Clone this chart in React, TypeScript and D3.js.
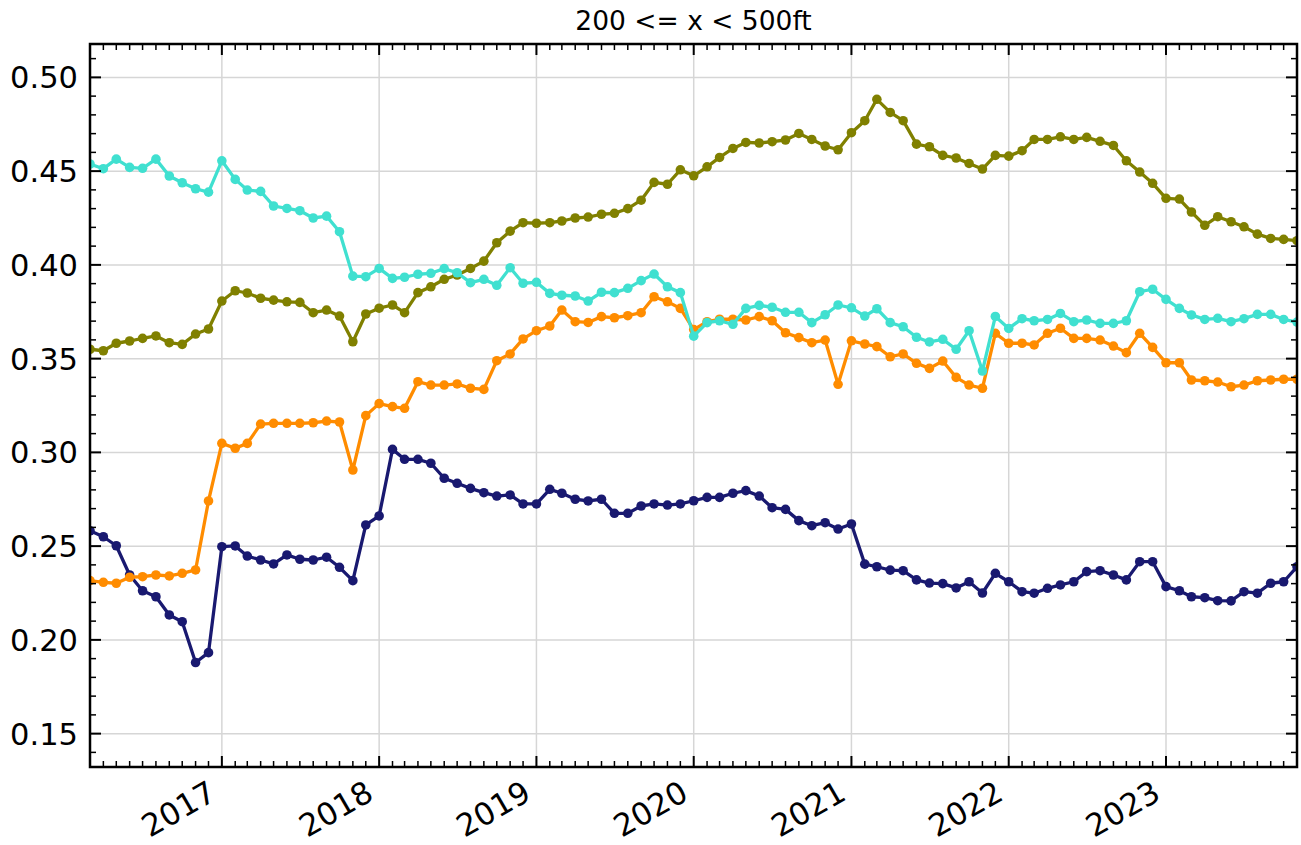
import React from 'react';
import * as d3 from 'd3';

const TITLE = '200 <= x < 500ft';
const START = new Date(2016, 2, 1);
const END = new Date(2023, 10, 1);
const months: Date[] = d3.timeMonth.range(START, d3.timeMonth.offset(END, 1));

const yearTicks = [2017, 2018, 2019, 2020, 2021, 2022, 2023];
const yTicks = [0.15, 0.2, 0.25, 0.3, 0.35, 0.4, 0.45, 0.5];
const yTickLabels = ['0.15', '0.20', '0.25', '0.30', '0.35', '0.40', '0.45', '0.50'];

const navy = [
  0.2582, 0.255, 0.2502, 0.2346, 0.2262, 0.223, 0.2133, 0.2097, 0.1879, 0.1932,
  0.2497, 0.2501, 0.2447, 0.2426, 0.2405, 0.2453, 0.243, 0.2426, 0.2441, 0.2387,
  0.2316, 0.2613, 0.2661, 0.3016, 0.2963, 0.2963, 0.2942, 0.2862, 0.2835, 0.2808,
  0.2785, 0.2767, 0.2773, 0.2725, 0.2725, 0.2803, 0.2782, 0.275, 0.2741, 0.275,
  0.2675, 0.2675, 0.2714, 0.2725, 0.2719, 0.2725, 0.2742, 0.276, 0.276, 0.2782,
  0.2796, 0.2767, 0.2705, 0.2696, 0.2636, 0.2609, 0.2625, 0.2591, 0.2618, 0.2404,
  0.239, 0.2372, 0.2369, 0.232, 0.2303, 0.23, 0.2277, 0.231, 0.225, 0.2355,
  0.231, 0.2257, 0.2249, 0.2275, 0.2293, 0.231, 0.2364, 0.2369, 0.2346, 0.232,
  0.2417, 0.2417, 0.2284, 0.2262, 0.223, 0.2225, 0.2209, 0.2208, 0.2257, 0.2249,
  0.2302, 0.231, 0.239,
];

const orange = [
  0.2316, 0.2307, 0.2302, 0.2334, 0.2337, 0.2346, 0.2341, 0.2355, 0.2373, 0.2741,
  0.3048, 0.3022, 0.3048, 0.3151, 0.3155, 0.3155, 0.3155, 0.3158, 0.3167, 0.3162,
  0.2906, 0.3196, 0.326, 0.3244, 0.3235, 0.3377, 0.3359, 0.3359, 0.3365, 0.3342,
  0.3336, 0.3489, 0.3525, 0.3605, 0.3649, 0.3674, 0.3759, 0.3697, 0.3693, 0.3724,
  0.3718, 0.3729, 0.3745, 0.383, 0.3803, 0.3768, 0.3655, 0.3697, 0.371, 0.371,
  0.3706, 0.3724, 0.3702, 0.3638, 0.3612, 0.3585, 0.3599, 0.3363, 0.3595, 0.3578,
  0.3564, 0.351, 0.3525, 0.3475, 0.3448, 0.3487, 0.34, 0.3359, 0.3342, 0.3635,
  0.3582, 0.3582, 0.3573, 0.3635, 0.3662, 0.3608, 0.3608, 0.3599, 0.3567, 0.3532,
  0.3635, 0.356, 0.3478, 0.3478, 0.3386, 0.3382, 0.3375, 0.335, 0.3359, 0.3382,
  0.3386, 0.339, 0.339,
];

const olive = [
  0.355, 0.3542, 0.3582, 0.3594, 0.3608, 0.3621, 0.3585, 0.3576, 0.3631, 0.3658,
  0.3807, 0.3862, 0.385, 0.3822, 0.3812, 0.3803, 0.38, 0.3745, 0.3759, 0.3727,
  0.359, 0.3738, 0.3769, 0.3786, 0.3745, 0.3852, 0.3883, 0.3923, 0.3946, 0.3981,
  0.402, 0.4118, 0.418, 0.4225, 0.4222, 0.4225, 0.4234, 0.425, 0.4255, 0.427,
  0.4275, 0.43, 0.4345, 0.444, 0.443, 0.4507, 0.4475, 0.4523, 0.4573, 0.4621,
  0.4653, 0.465, 0.4657, 0.4666, 0.4701, 0.4669, 0.4634, 0.4614, 0.4705, 0.4769,
  0.4883, 0.4813, 0.4769, 0.4644, 0.463, 0.4584, 0.457, 0.4541, 0.4511, 0.4584,
  0.458, 0.4609, 0.4669, 0.4669, 0.4683, 0.4669, 0.468, 0.4659, 0.4637, 0.4555,
  0.4495, 0.4435, 0.4355, 0.4351, 0.4282, 0.4211, 0.4257, 0.423, 0.4203, 0.4164,
  0.4141, 0.4136, 0.4129,
];

const cyan = [
  0.4538, 0.4513, 0.4564, 0.452, 0.4515, 0.4564, 0.4474, 0.4438, 0.4406, 0.4388,
  0.4555, 0.4456, 0.4399, 0.4392, 0.4314, 0.4301, 0.4289, 0.425, 0.426, 0.4177,
  0.394, 0.3937, 0.3981, 0.3928, 0.3934, 0.395, 0.3955, 0.398, 0.3958, 0.3905,
  0.3923, 0.3891, 0.3985, 0.3902, 0.3907, 0.3848, 0.3838, 0.3834, 0.3807, 0.3854,
  0.3852, 0.3875, 0.3916, 0.3951, 0.3883, 0.3852, 0.362, 0.3692, 0.3702, 0.3683,
  0.3768, 0.3784, 0.3774, 0.3747, 0.3747, 0.3692, 0.3734, 0.3786, 0.3771, 0.3727,
  0.3766, 0.3692, 0.367, 0.3614, 0.3589, 0.3603, 0.355, 0.3649, 0.3434, 0.3725,
  0.3661, 0.3713, 0.3702, 0.3709, 0.3741, 0.3697, 0.3706, 0.3688, 0.3688, 0.3702,
  0.3857, 0.387, 0.3816, 0.3768, 0.3733, 0.3709, 0.3715, 0.3697, 0.3713, 0.3736,
  0.3736, 0.3709, 0.3695,
];

const seriesList = [
  { name: 'navy', color: '#191970', values: navy },
  { name: 'orange', color: '#FF8C00', values: orange },
  { name: 'olive', color: '#808000', values: olive },
  { name: 'cyan', color: '#40E0D0', values: cyan },
];

const W = 1301;
const H = 845;
const L = 90;
const R = 1297;
const T = 44;
const B = 767;
const FONT = 'DejaVu Sans, sans-serif';

export default function App() {
  const x = d3.scaleTime().domain([START, END]).range([L, R]);
  const y = d3.scaleLinear().domain([0.1322, 0.5178]).range([B, T]);
  const line = d3
    .line<number>()
    .x((_, i) => x(months[i]))
    .y((d) => y(d));

  const minorX = d3.timeMonth.range(START, d3.timeMonth.offset(END, 1));
  const yMinor = d3.range(14, 52).map((k) => k / 100);
  const [y0, y1] = y.domain();
  const yMinorIn = yMinor.filter((v) => v >= y0 && v <= y1);

  return (
    <svg
      width={W}
      height={H}
      style={{ position: 'absolute', left: 0, top: 0, background: '#fff' }}
      fontFamily={FONT}
    >
      <defs>
        <clipPath id="plotclip">
          <rect x={L} y={T} width={R - L} height={B - T} />
        </clipPath>
      </defs>
      <rect x={0} y={0} width={W} height={H} fill="#fff" />
      {/* grid */}
      <g stroke="#d6d6d6" strokeWidth={1.5}>
        {yearTicks.map((yr) => {
          const xx = x(new Date(yr, 0, 1));
          return <line key={'gx' + yr} x1={xx} x2={xx} y1={T} y2={B} />;
        })}
        {yTicks.map((v) => (
          <line key={'gy' + v} x1={L} x2={R} y1={y(v)} y2={y(v)} />
        ))}
      </g>
      {/* series */}
      <g clipPath="url(#plotclip)">
        {seriesList.map((s) => (
          <g key={s.name}>
            <path d={line(s.values) || ''} fill="none" stroke={s.color} strokeWidth={3.3} strokeLinejoin="round" />
            {s.values.map((v, i) => (
              <circle key={i} cx={x(months[i])} cy={y(v)} r={4.8} fill={s.color} />
            ))}
          </g>
        ))}
      </g>
      {/* ticks */}
      <g stroke="#000">
        {minorX.map((d, i) => {
          const xx = x(d);
          const major = d.getMonth() === 0;
          const len = major ? 11 : 6;
          return (
            <g key={'tx' + i} strokeWidth={major ? 2 : 1.5}>
              <line x1={xx} x2={xx} y1={B} y2={B - len} />
              <line x1={xx} x2={xx} y1={T} y2={T + len} />
            </g>
          );
        })}
        {yMinorIn.map((v, i) => {
          const yy = y(v);
          const major = Math.abs(Math.round(v * 100) % 5) === 0;
          const len = major ? 11 : 6;
          return (
            <g key={'ty' + i} strokeWidth={major ? 2 : 1.5}>
              <line x1={L} x2={L + len} y1={yy} y2={yy} />
              <line x1={R} x2={R - len} y1={yy} y2={yy} />
            </g>
          );
        })}
      </g>
      {/* frame */}
      <rect x={L} y={T} width={R - L} height={B - T} fill="none" stroke="#000" strokeWidth={2.5} />
      {/* y labels */}
      {yTicks.map((v, i) => (
        <text key={'yl' + v} x={L - 12} y={y(v)} dy="0.36em" textAnchor="end" fontSize={30.5} fill="#000">
          {yTickLabels[i]}
        </text>
      ))}
      {/* x labels */}
      {yearTicks.map((yr) => {
        const xx = x(new Date(yr, 0, 1));
        return (
          <text
            key={'xl' + yr}
            transform={`translate(${xx - 15},${779}) rotate(-30)`}
            dy="0.73em"
            textAnchor="end"
            fontSize={31}
            fill="#000"
          >
            {String(yr)}
          </text>
        );
      })}
      <text x={(L + R) / 2} y={30} textAnchor="middle" fontSize={26.5} fill="#000">
        {TITLE}
      </text>
    </svg>
  );
}
